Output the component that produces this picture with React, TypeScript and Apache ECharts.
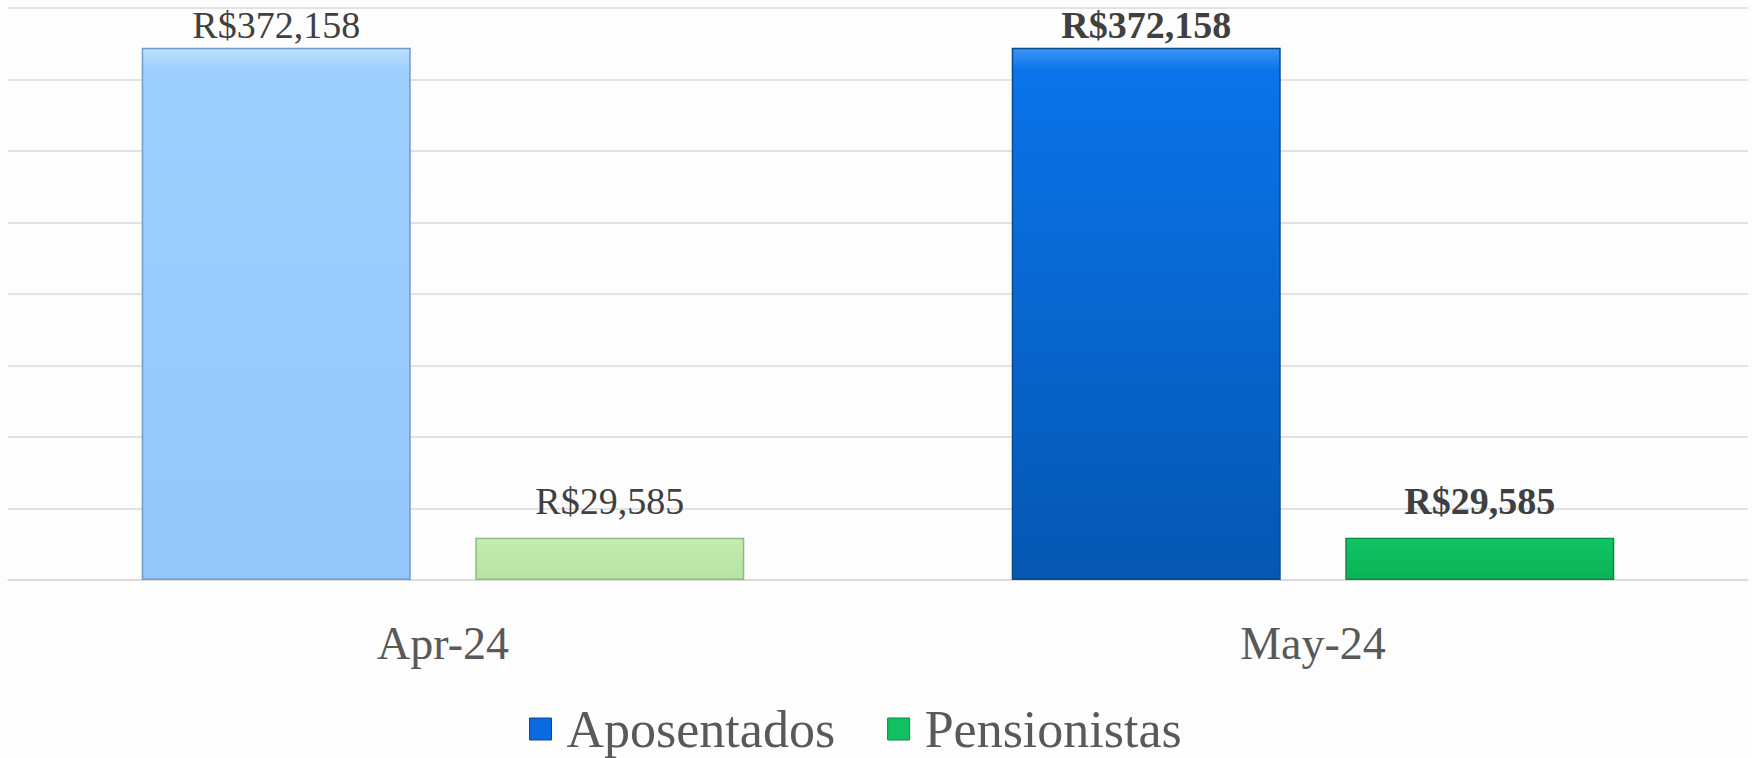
import React, { useEffect, useRef } from "react";
import * as echarts from "echarts";

const categories = ["Apr-24", "May-24"];
const seriesNames = ["Aposentados", "Pensionistas"];
const aposentados = [372158, 372158];
const pensionistas = [29585, 29585];

const FONT = "'Liberation Serif', 'DejaVu Serif', serif";

const grad = (top: string, mid: string, bottom: string) =>
  new echarts.graphic.LinearGradient(0, 0, 0, 1, [
    { offset: 0, color: top },
    { offset: 0.04, color: mid },
    { offset: 1, color: bottom },
  ]);

const fmt = (v: number) => "R$" + v.toLocaleString("en-US");

export default function App() {
  const ref = useRef<HTMLDivElement>(null);
  useEffect(() => {
    document.body.style.margin = "0";
    const chart = echarts.init(ref.current!, undefined, { renderer: "svg" });
    const aposStyles = [
      { color: grad("#bfe0ff", "#9dcfff", "#94c6fa"), borderColor: "#6f9cc9", borderWidth: 1.5 },
      { color: grad("#3d96f5", "#0a74ea", "#0557b2"), borderColor: "#0a4a8e", borderWidth: 1.5 },
    ];
    const pensStyles = [
      { color: grad("#e3f7d8", "#c3ecb0", "#b6e3a3"), borderColor: "#8cbb7c", borderWidth: 1.5 },
      { color: grad("#4de08e", "#0fc465", "#0ab355"), borderColor: "#0a8a44", borderWidth: 1.5 },
    ];
    chart.setOption({
      animation: false,
      backgroundColor: "#fdfdfd",
      grid: { left: 8, right: 4, top: 8, bottom: 178 },
      legend: {
        left: 529,
        top: 703,
        padding: 0,
        itemWidth: 22,
        itemHeight: 22,
        itemGap: 52,
        icon: "rect",
        textStyle: {
          fontFamily: FONT,
          fontSize: 52,
          lineHeight: 52,
          color: "#595959",
          padding: [0, 0, 0, 10],
        },
        data: [
          { name: seriesNames[0], itemStyle: { color: "#0a6be0", borderColor: "#0a4a8e", borderWidth: 1 } },
          { name: seriesNames[1], itemStyle: { color: "#12c060", borderColor: "#0a8a44", borderWidth: 1 } },
        ],
      },
      xAxis: {
        type: "category",
        data: categories,
        axisTick: { show: false },
        axisLine: { lineStyle: { color: "#d9d9d9", width: 1.5 } },
        axisLabel: {
          fontFamily: FONT,
          fontSize: 46,
          color: "#595959",
          margin: 40,
        },
      },
      yAxis: {
        type: "value",
        min: 0,
        max: 400000,
        interval: 50000,
        axisLabel: { show: false },
        axisLine: { show: false },
        axisTick: { show: false },
        splitLine: { lineStyle: { color: "#d9d9d9", width: 1.5 } },
      },
      series: [
        {
          name: seriesNames[0],
          type: "bar",
          barWidth: 269,
          barGap: "24%",
          data: aposentados.map((v, i) => ({
            value: v,
            itemStyle: aposStyles[i],
            label: { fontWeight: i === 1 ? "bold" : "normal" },
          })),
          label: {
            show: true,
            position: "top",
            distance: 4,
            fontFamily: FONT,
            fontSize: 38,
            color: "#404040",
            formatter: (p: any) => fmt(p.value),
          },
        },
        {
          name: seriesNames[1],
          type: "bar",
          barWidth: 269,
          data: pensionistas.map((v, i) => ({
            value: v,
            itemStyle: pensStyles[i],
            label: { fontWeight: i === 1 ? "bold" : "normal" },
          })),
          label: {
            show: true,
            position: "top",
            distance: 18,
            fontFamily: FONT,
            fontSize: 38,
            color: "#404040",
            formatter: (p: any) => fmt(p.value),
          },
        },
      ],
    });
    return () => chart.dispose();
  }, []);
  return <div ref={ref} style={{ width: 1752, height: 758, position: "absolute", left: 0, top: 0 }} />;
}
